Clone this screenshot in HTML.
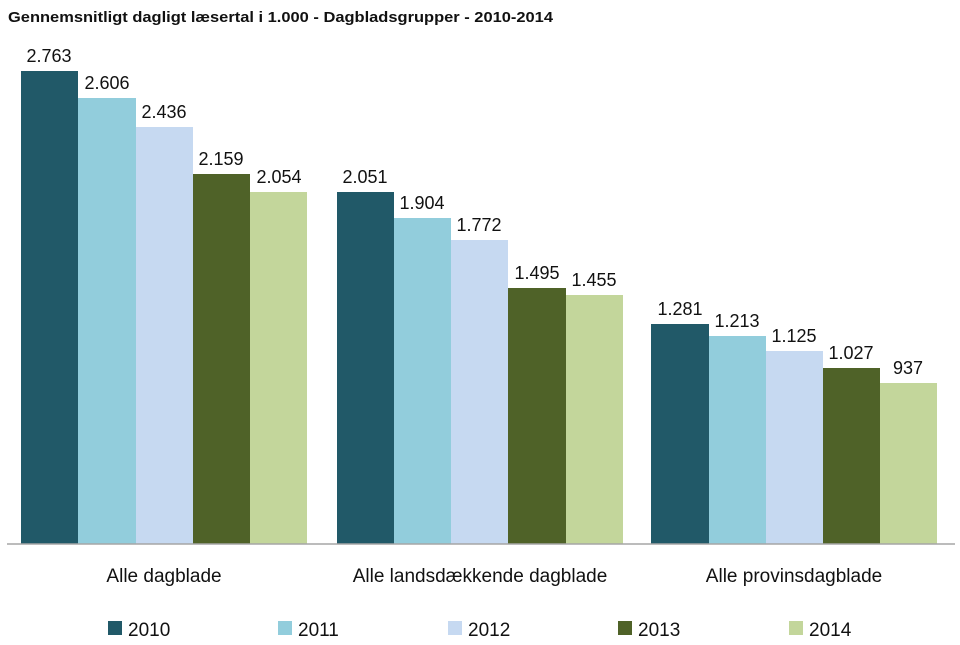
<!DOCTYPE html>
<html><head><meta charset="utf-8"><style>
html,body{margin:0;padding:0;background:#fff}
svg{display:block}
text{font-family:"Liberation Sans",sans-serif;fill:#111}
</style></head><body>
<svg width="960" height="645" viewBox="0 0 960 645" xmlns="http://www.w3.org/2000/svg">
<text x="8" y="22" font-size="15" font-weight="bold" textLength="545" lengthAdjust="spacingAndGlyphs">Gennemsnitligt dagligt læsertal i 1.000 - Dagbladsgrupper - 2010-2014</text>
<g>
<rect x="21" y="71" width="57" height="473" fill="#215968"/>
<rect x="78" y="98" width="58" height="446" fill="#92CDDC"/>
<rect x="136" y="127" width="57" height="417" fill="#C6D9F1"/>
<rect x="193" y="174" width="57" height="370" fill="#4F6228"/>
<rect x="250" y="192" width="57" height="352" fill="#C3D69B"/>
<rect x="337" y="192" width="57" height="352" fill="#215968"/>
<rect x="394" y="218" width="57" height="326" fill="#92CDDC"/>
<rect x="451" y="240" width="57" height="304" fill="#C6D9F1"/>
<rect x="508" y="288" width="58" height="256" fill="#4F6228"/>
<rect x="566" y="295" width="57" height="249" fill="#C3D69B"/>
<rect x="651" y="324" width="58" height="220" fill="#215968"/>
<rect x="709" y="336" width="57" height="208" fill="#92CDDC"/>
<rect x="766" y="351" width="57" height="193" fill="#C6D9F1"/>
<rect x="823" y="368" width="57" height="176" fill="#4F6228"/>
<rect x="880" y="383" width="57" height="161" fill="#C3D69B"/>
</g>
<line x1="7" y1="544" x2="955" y2="544" stroke="#a6a6a6" stroke-width="1.5"/>
<g font-size="18" text-anchor="middle">
<text x="49" y="62">2.763</text>
<text x="107" y="89">2.606</text>
<text x="164" y="118">2.436</text>
<text x="221" y="165">2.159</text>
<text x="279" y="183">2.054</text>
<text x="365" y="183">2.051</text>
<text x="422" y="209">1.904</text>
<text x="479" y="231">1.772</text>
<text x="537" y="279">1.495</text>
<text x="594" y="286">1.455</text>
<text x="680" y="315">1.281</text>
<text x="737" y="327">1.213</text>
<text x="794" y="342">1.125</text>
<text x="851" y="359">1.027</text>
<text x="908" y="374">937</text>
</g>
<g font-size="19" text-anchor="middle">
<text x="164" y="582">Alle dagblade</text>
<text x="480" y="582">Alle landsdækkende dagblade</text>
<text x="794" y="582">Alle provinsdagblade</text>
</g>
<g font-size="19">
<rect x="108" y="621" width="14" height="14" fill="#215968"/><text x="128" y="636">2010</text>
<rect x="278" y="621" width="14" height="14" fill="#92CDDC"/><text x="298" y="636">2011</text>
<rect x="448" y="621" width="14" height="14" fill="#C6D9F1"/><text x="468" y="636">2012</text>
<rect x="618" y="621" width="14" height="14" fill="#4F6228"/><text x="638" y="636">2013</text>
<rect x="789" y="621" width="14" height="14" fill="#C3D69B"/><text x="809" y="636">2014</text>
</g>
</svg>
</body></html>
